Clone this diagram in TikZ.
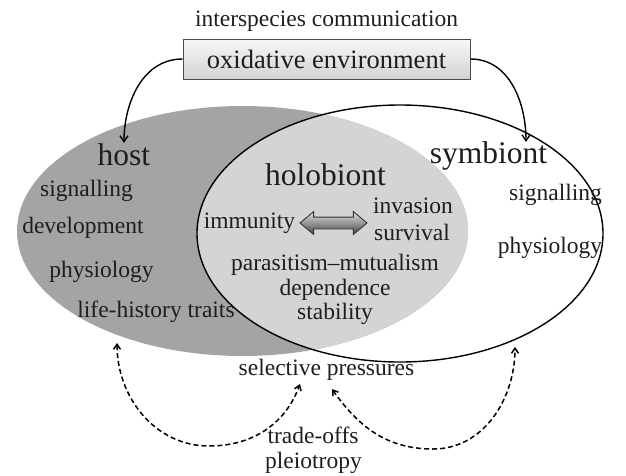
\documentclass[tikz,border=0pt]{standalone}
\usepackage{fontspec}
\setmainfont{Liberation Serif}
\usetikzlibrary{arrows.meta,shapes.arrows}
\definecolor{hostgray}{HTML}{A4A4A7}
\definecolor{hologray}{HTML}{D4D4D6}
\definecolor{inkc}{HTML}{1E1E1E}
\tikzset{
  small/.style={font=\fontsize{23.5}{26}\selectfont, text=inkc, inner sep=0pt, anchor=base},
  big/.style={font=\fontsize{31.5}{34}\selectfont, text=inkc, inner sep=0pt, anchor=base},
  envbox/.style={draw=black!70, line width=0.9pt, top color=gray!6, bottom color=gray!35,
    minimum width=287pt, minimum height=40pt, inner sep=0pt, text=inkc,
    font=\fontsize{26.5}{28}\selectfont},
  conn/.style={line width=1.4pt, -{Straight Barb[length=6pt,width=8pt]}},
  dasharrow/.style={line width=1.5pt, dash pattern=on 5pt off 3pt,
    {Straight Barb[length=5pt,width=7pt]}-{Straight Barb[length=5pt,width=7pt]}},
  dblarrow/.style={double arrow, draw=black!80, line width=0.9pt,
    top color=black!12, bottom color=black!72, inner sep=0pt, inner ysep=5.5pt,
    minimum height=67pt, double arrow head extend=5.5pt, double arrow tip angle=80}
}
\begin{document}
\begin{tikzpicture}[x=1pt,y=1pt]
\useasboundingbox (0,0) rectangle (626,-475);
% ellipses
\fill[hostgray] (242.5,-231) ellipse [x radius=225.5, y radius=125];
\begin{scope}
  \clip (400,-233.5) ellipse [x radius=203, y radius=128.5];
  \fill[hologray] (242.5,-231) ellipse [x radius=225.5, y radius=125];
\end{scope}
\draw[line width=1.4pt] (400,-233.5) ellipse [x radius=203, y radius=128.5];

% top
\node[small] (comm) at (326.5,-26) {interspecies communication};
\node[envbox] (env) at (326.5,-59) {oxidative environment};

% labels
\node[big] (host) at (124,-165) {host};
\node[big] (holo) at (325.5,-185) {holobiont};
\node[big] (sym) at (488.5,-163) {symbiont};

\node[small] (hsig) at (86.5,-196) {signalling};
\node[small] (hdev) at (83,-233) {development};
\node[small] (hphy) at (101.5,-277) {physiology};
\node[small] (hlife) at (156,-317) {life-history traits};

\node[small] (imm) at (249.5,-228) {immunity};
\node[small] (inv) at (413,-213) {invasion};
\node[small] (surv) at (412,-240) {survival};
\node[dblarrow] (dbl) at (333.5,-223) {};
\node[small] (para) at (335,-270) {parasitism–mutualism};
\node[small] (dep) at (335,-295) {dependence};
\node[small] (stab) at (335,-319) {stability};

\node[small] (ssig) at (555.5,-200) {signalling};
\node[small] (sphy) at (550,-253) {physiology};

\node[small] (sel) at (326.5,-375) {selective pressures};
\node[small] (trade) at (313,-443) {trade-offs};
\node[small] (pleio) at (313.5,-468) {pleiotropy};

% connectors from box
\coordinate (symtip) at (526,-142);
\draw[conn] (env.west) to[out=180,in=90] (host.north);
\draw[conn] (env.east) to[out=0,in=90] (symtip);

% dashed arrows
\coordinate (hb) at (117,-343);
\coordinate (lb) at (209,-446);
\coordinate (sp1) at (300,-384);
\coordinate (sp2) at (332,-389);
\coordinate (rb) at (433,-449);
\coordinate (sb) at (515,-347);
\draw[dasharrow] (hb) to[out=-90,in=180] (lb) to[out=0,in=-110] (sp1);
\draw[dasharrow] (sp2) to[out=-55,in=180] (rb) to[out=0,in=-90] (sb);
\end{tikzpicture}
\end{document}
